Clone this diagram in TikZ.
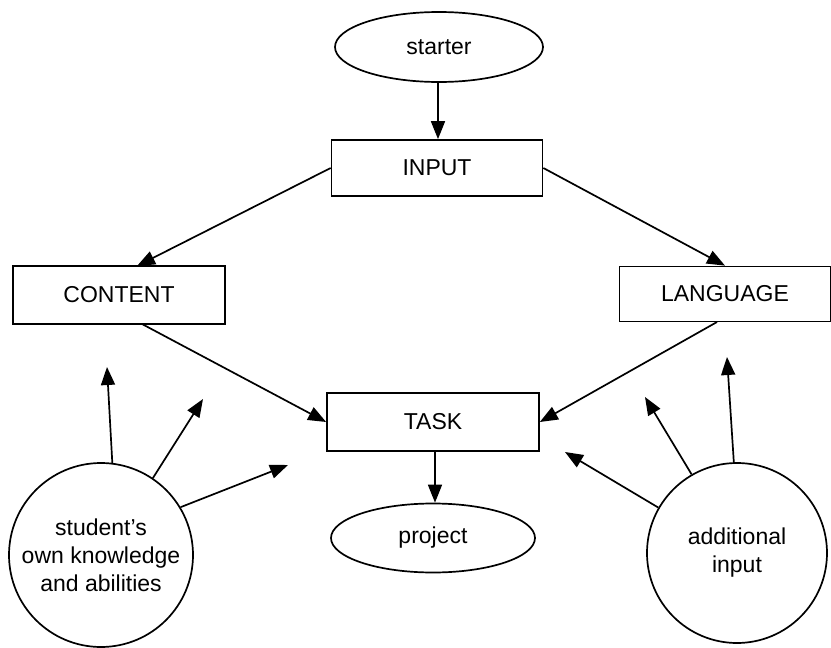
\documentclass[tikz,border=0pt]{standalone}
\usepackage{fontspec}
\setmainfont{Liberation Sans}
\usetikzlibrary{shapes.geometric,arrows.meta}
\begin{document}
\begin{tikzpicture}[x=0.5pt,y=-0.5pt,
  line width=0.85pt,
  every node/.style={font=\fontsize{11.5}{14}\selectfont},
  box/.style={draw,rectangle,inner sep=0pt},
  oval/.style={draw,ellipse,inner sep=0pt},
  blob/.style={draw,circle,inner sep=0pt,align=center},
  arr/.style={-{Triangle[length=9pt,width=7pt]}}]
\useasboundingbox (0,0) rectangle (831,648);
\node[oval,minimum width=104pt,minimum height=35pt] (starter) at (439,47) {starter};
\node[box,minimum width=105.5pt,minimum height=28pt] (input) at (437,168) {INPUT};
\node[box,minimum width=106pt,minimum height=29pt] (content) at (119,295) {CONTENT};
\node[box,minimum width=105.5pt,minimum height=27.5pt] (language) at (725,294) {LANGUAGE};
\node[box,minimum width=106pt,minimum height=29pt] (task) at (433,422) {TASK};
\node[oval,minimum width=102pt,minimum height=34.5pt] (project) at (433,538) {project};
\node[blob,minimum size=92pt] (student) at (101,555) {student\char39 s\\own knowledge\\and abilities};
\node[blob,minimum size=90pt] (additional) at (737,553) {additional\\input};
% targets of the free arrows
\coordinate (s1) at (107,367);
\coordinate (s2) at (203,399);
\coordinate (s3) at (288,465);
\coordinate (a1) at (727,357);
\coordinate (a2) at (645,397);
\coordinate (a3) at (565,452);
\coordinate (cin) at (137,266);
\coordinate (cout) at (142,324);
\coordinate (lout) at (717,322);
% connectors
\draw[arr] (starter.south -| 438,0) -- (input.north -| 438,0);
\draw[arr] (input.west) -- (cin);
\draw[arr] (input.east) -- (language.north);
\draw[arr] (cout) -- (task.west);
\draw[arr] (lout) -- (task.east);
\draw[arr] (task.south -| 435,0) -- (project.north -| 435,0);
\draw[arr] (student.83) -- (s1);
\draw[arr] (student.56) -- (s2);
\draw[arr] (student.31) -- (s3);
\draw[arr] (additional.92) -- (a1);
\draw[arr] (additional.120) -- (a2);
\draw[arr] (additional.150) -- (a3);
\end{tikzpicture}
\end{document}
